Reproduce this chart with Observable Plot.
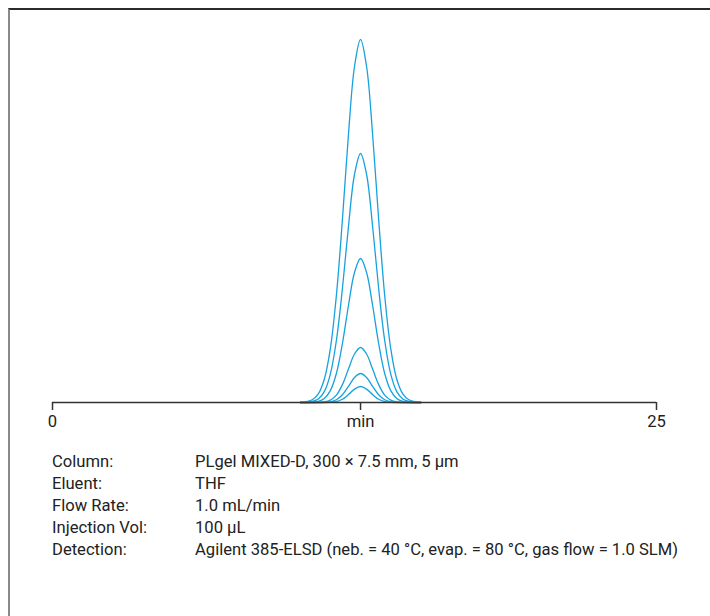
<!DOCTYPE html>
<html>
<head>
<meta charset="utf-8">
<script src="https://cdn.jsdelivr.net/npm/d3@7"></script>
<script src="https://cdn.jsdelivr.net/npm/@observablehq/plot@0.6"></script>
<style>
  html, body { margin: 0; padding: 0; background: #fff; }
  body { width: 710px; height: 616px; position: relative; overflow: hidden;
         font-family: "Roboto", sans-serif; }
  #frame { position: absolute; left: 8px; top: 8px; right: 0; bottom: 0;
           border-top: 2px solid #2b2b2b; border-left: 2px solid #8a8a8a; }
  #chart { position: absolute; left: 0; top: 0; }
  #info { position: absolute; left: 52px; top: 451px; font-size: 16.6px; line-height: 22px; color: #222; }
  #info .row { display: flex; white-space: nowrap; }
  #info .k { width: 143px; flex: none; }
</style>
</head>
<body>
<div id="frame"></div>
<div id="chart"></div>
<div id="info"></div>
<script>
// Retention time (min) sample points
const times = [10.25, 10.75, 11.0, 11.25, 11.5, 11.75, 12.0, 12.25, 12.5, 12.75, 13.0, 13.25, 13.5, 13.75, 14.0, 14.25, 14.5, 14.75, 15.25];
// Detector response for six injections
const trace1 = [0.2, 2.7, 8.6, 23.3, 53.9, 107, 183, 268, 336, 363, 336, 268, 183, 107, 53.9, 23.3, 8.6, 2.7, 0.2];
const trace2 = [0, 1.0, 3.5, 10.9, 28.4, 62, 114, 176, 228, 249, 228, 176, 114, 62, 28.4, 10.9, 3.5, 1.0, 0];
const trace3 = [0, 0.2, 1.1, 4.0, 11.9, 29, 59, 97, 130, 144, 130, 97, 59, 29, 11.9, 4.0, 1.1, 0.2, 0];
const trace4 = [0, 0, 0.1, 0.6, 2.4, 7.4, 17.9, 33.4, 48.5, 55, 48.5, 33.4, 17.9, 7.4, 2.4, 0.6, 0.1, 0, 0];
const trace5 = [0, 0, 0, 0.1, 0.7, 2.7, 7.7, 16.1, 25, 29, 25, 16.1, 7.7, 2.7, 0.7, 0.1, 0, 0, 0];
const trace6 = [0, 0, 0, 0, 0.2, 0.9, 3.2, 7.9, 13.4, 16, 13.4, 7.9, 3.2, 0.9, 0.2, 0, 0, 0, 0];
const traces = [trace1, trace2, trace3, trace4, trace5, trace6];

// Axis ticks
const tickValues = [0, 12.75, 25];
const tickLabels = ["0", "min", "25"];

// Conditions table
const infoKeys = ["Column:", "Eluent:", "Flow Rate:", "Injection Vol:", "Detection:"];
const infoVals = ["PLgel MIXED-D, 300 × 7.5 mm, 5 µm", "THF", "1.0 mL/min", "100 µL",
  "Agilent 385-ELSD (neb. = 40 °C, evap. = 80 °C, gas flow = 1.0 SLM)"];

const data = traces.flatMap((tr, i) => tr.map((v, j) => ({ t: times[j], v, s: i })));

const plot = Plot.plot({
  width: 710,
  height: 440,
  marginLeft: 52,
  marginRight: 54,
  marginTop: 39,
  marginBottom: 38,
  x: { domain: [0, 25], label: null },
  y: { domain: [0, 363], axis: null },
  style: { fontFamily: '"Roboto", sans-serif', color: "#222", background: "transparent" },
  marks: [
    Plot.line(data, { x: "t", y: "v", z: "s", stroke: "#16a2de", strokeWidth: 1.3, curve: "catmull-rom" }),
    Plot.ruleY([0], { x1: 0, x2: 25, stroke: "#333", strokeWidth: 1.5 }),
    Plot.axisX({ ticks: tickValues, tickFormat: (d) => tickLabels[tickValues.indexOf(d)], label: null,
      tickSize: 8, tickPadding: 5, fontSize: 16.6, stroke: "#333", strokeWidth: 1.5, color: "#222" })
  ]
});
document.getElementById("chart").appendChild(plot);

const info = document.getElementById("info");
infoKeys.forEach((k, i) => {
  const row = document.createElement("div");
  row.className = "row";
  const a = document.createElement("span"); a.className = "k"; a.textContent = k;
  const b = document.createElement("span"); b.textContent = infoVals[i];
  row.appendChild(a); row.appendChild(b);
  info.appendChild(row);
});
</script>
</body>
</html>
